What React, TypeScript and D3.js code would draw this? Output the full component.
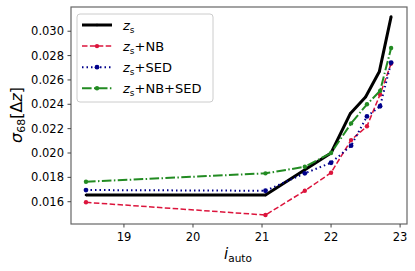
import React from "react";
import * as d3 from "d3";

const xZs = [18.45, 21.05, 22.0, 22.28, 22.5, 22.7, 22.87];
const yZs = [0.01655, 0.01655, 0.0200, 0.02325, 0.0246, 0.0267, 0.0312];
const xOther = [18.45, 21.05, 21.62, 22.0, 22.29, 22.52, 22.71, 22.87];
const yNB = [0.01595, 0.01491, 0.0169, 0.01838, 0.02106, 0.0222, 0.0248, 0.02734];
const ySED = [0.01696, 0.0169, 0.01833, 0.0192, 0.0206, 0.0230, 0.02384, 0.02743];
const yNBSED = [0.01764, 0.01833, 0.01887, 0.0200, 0.02243, 0.0240, 0.0251, 0.02862];
const xTicks = [19, 20, 21, 22, 23];
const yTicks = [0.016, 0.018, 0.020, 0.022, 0.024, 0.026, 0.028, 0.030];
const legendLabels = ["", "+NB", "+SED", "+NB+SED"];

const W = 415, H = 271;
const L = 71, R = 407, T = 7, B = 224;

export default function App() {
  const x = d3.scaleLinear().domain([18.233, 23.1]).range([L, R]);
  const y = d3.scaleLinear().domain([0.01417, 0.03199]).range([B, T]);
  const line = d3.line<[number, number]>().x(d => x(d[0])).y(d => y(d[1]));
  const series = [
    { xs: xZs, ys: yZs, color: "#000000", width: 3, dash: "", r: 1.3 },
    { xs: xOther, ys: yNB, color: "#DC143C", width: 1.5, dash: "5.5,2.4", r: 2.2 },
    { xs: xOther, ys: ySED, color: "#00008B", width: 2, dash: "1.5,3", r: 2.4 },
    { xs: xOther, ys: yNBSED, color: "#228B22", width: 2, dash: "9.6,2.4,1.5,2.4", r: 2.2 },
  ];
  const font = "DejaVu Sans, sans-serif";
  return (
    <svg width={W} height={H} style={{ position: "absolute", left: 0, top: 0 }} fontFamily={font}>
      <rect x={0} y={0} width={W} height={H} fill="#fff" />
      {series.map((s, i) => {
        const pts = s.xs.map((v, j) => [v, s.ys[j]] as [number, number]);
        return (
          <g key={i}>
            <path d={line(pts) || ""} fill="none" stroke={s.color} strokeWidth={s.width} strokeDasharray={s.dash} strokeLinejoin="round" />
            {pts.map((p, j) => (
              <circle key={j} cx={x(p[0])} cy={y(p[1])} r={s.r} fill={s.color} />
            ))}
          </g>
        );
      })}
      <rect x={L} y={T} width={R - L} height={B - T} fill="none" stroke="#666" strokeWidth={1.2} />
      {xTicks.map(t => (
        <g key={t}>
          <line x1={x(t)} x2={x(t)} y1={B} y2={B + 3.5} stroke="#444" strokeWidth={1} />
          <text x={x(t)} y={B + 17} textAnchor="middle" fontSize={11.5} fill="#000">{t}</text>
        </g>
      ))}
      {yTicks.map(t => (
        <g key={t}>
          <line x1={L - 3.5} x2={L} y1={y(t)} y2={y(t)} stroke="#444" strokeWidth={1} />
          <text x={L - 7} y={y(t) + 4} textAnchor="end" fontSize={11.5} fill="#000">{t.toFixed(3)}</text>
        </g>
      ))}
      <text x={238} y={259} textAnchor="middle" fontSize={15} fill="#000">
        <tspan fontStyle="italic">i</tspan>
        <tspan fontSize={10.5} dy={3}>auto</tspan>
      </text>
      <text transform="translate(22,115) rotate(-90)" textAnchor="middle" fontSize={16} fill="#000">
        <tspan fontStyle="italic">σ</tspan>
        <tspan fontSize={11} dy={3}>68</tspan>
        <tspan dy={-3}>[Δ</tspan>
        <tspan fontStyle="italic">z</tspan>
        <tspan>]</tspan>
      </text>
      <rect x={77} y={14} width={136} height={88} rx={3} fill="#fff" fillOpacity={0.8} stroke="#ccc" strokeWidth={1} />
      {series.map((s, i) => {
        const yy = 25 + i * 21.1;
        return (
          <g key={i}>
            <line x1={82} x2={112} y1={yy} y2={yy} stroke={s.color} strokeWidth={s.width} strokeDasharray={s.dash} />
            <circle cx={97} cy={yy} r={s.r} fill={s.color} />
            <text x={123} y={yy + 5} fontSize={13} fill="#000">
              <tspan fontStyle="italic">z</tspan>
              <tspan fontSize={9} dy={3}>s</tspan>
              <tspan dy={-3}>{legendLabels[i]}</tspan>
            </text>
          </g>
        );
      })}
    </svg>
  );
}
